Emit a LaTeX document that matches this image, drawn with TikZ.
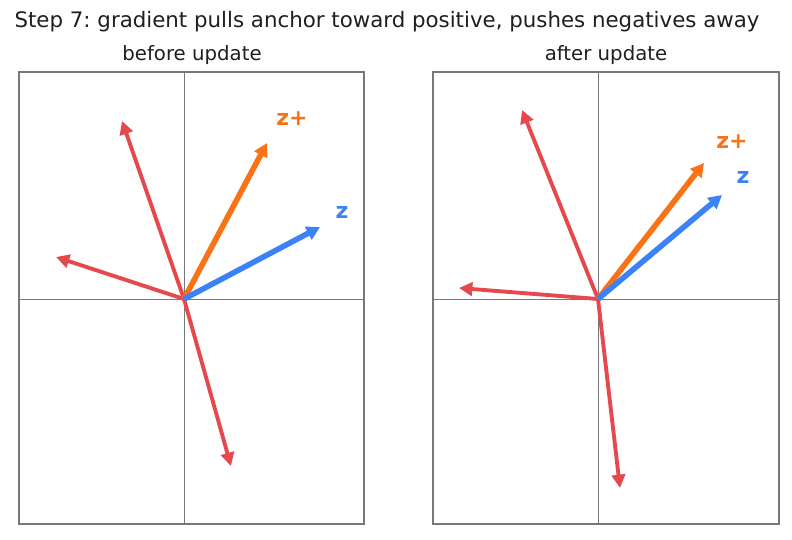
\documentclass[tikz,border=0pt]{standalone}
\usepackage{fontspec}
\setmainfont{DejaVu Sans}
\usetikzlibrary{arrows.meta}
\definecolor{posorange}{HTML}{F97316}
\definecolor{anchorblue}{HTML}{3B82F6}
\definecolor{negred}{HTML}{E5484D}
\definecolor{axisgray}{HTML}{787878}
\definecolor{titleblack}{HTML}{1F1F1F}
\frenchspacing

\begin{document}
\begin{tikzpicture}
  [x=0.75pt,y=-0.75pt,
   panel/.style={draw=axisgray,line width=0.9pt},
   axisline/.style={draw=axisgray,line width=0.6pt},
   vec/.style={line width=4.2pt,-{Triangle[length=10pt,width=10.5pt]}},
   negvec/.style={negred,line width=2.9pt,-{Triangle[length=10pt,width=10pt]}},
   lbl/.style={font=\fontsize{16.5}{18}\selectfont\bfseries},
   subtitle/.style={font=\fontsize{14.8}{17}\selectfont,text=titleblack},
  ]
  \useasboundingbox (0,0) rectangle (792,539);

  % titles
  \node[font=\fontsize{16}{19}\selectfont,text=titleblack] (title) at (387,22) {Step 7: gradient pulls anchor toward positive, pushes negatives away};
  \node[subtitle] (tleft) at (192,55) {before update};
  \node[subtitle] (tright) at (606,55) {after update};

  % left panel
  \draw[panel] (19,72) rectangle (364,524);
  \draw[axisline] (19,299) -- (364,299);
  \draw[axisline] (184,72) -- (184,524);
  \coordinate (o1) at (184,299);
  \coordinate (p1) at (267,143);
  \coordinate (a1) at (320,227);
  \coordinate (n1a) at (122,121);
  \coordinate (n1b) at (56,257);
  \coordinate (n1c) at (231,466);
  \draw[negvec] (o1) -- (n1a);
  \draw[negvec] (o1) -- (n1b);
  \draw[negvec] (o1) -- (n1c);
  \draw[vec,posorange] (o1) -- (p1);
  \draw[vec,anchorblue] (o1) -- (a1);
  \node[lbl,text=posorange] (lp1) at (292,119) {z+};
  \node[lbl,text=anchorblue] (la1) at (342,212) {z};

  % right panel
  \draw[panel] (433,72) rectangle (779,524);
  \draw[axisline] (433,299) -- (779,299);
  \draw[axisline] (598,72) -- (598,524);
  \coordinate (o2) at (598,299);
  \coordinate (p2) at (704,163);
  \coordinate (a2) at (722,195);
  \coordinate (n2a) at (522,110);
  \coordinate (n2b) at (459,288);
  \coordinate (n2c) at (620,488);
  \draw[negvec] (o2) -- (n2a);
  \draw[negvec] (o2) -- (n2b);
  \draw[negvec] (o2) -- (n2c);
  \draw[vec,posorange] (o2) -- (p2);
  \draw[vec,anchorblue] (o2) -- (a2);
  \node[lbl,text=posorange] (lp2) at (732,142) {z+};
  \node[lbl,text=anchorblue] (la2) at (743,177) {z};
\end{tikzpicture}
\end{document}
